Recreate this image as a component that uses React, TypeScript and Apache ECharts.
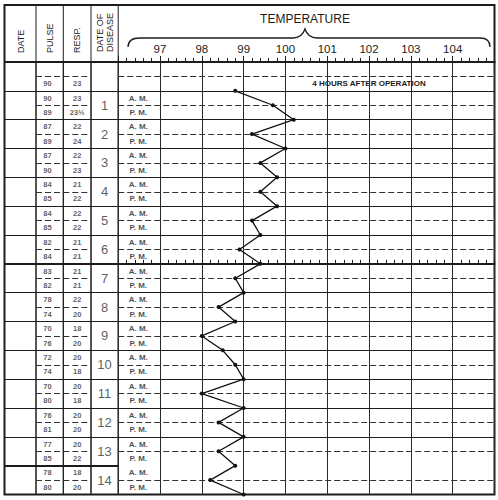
import { useEffect, useRef } from "react";
import * as echarts from "echarts";

// Temperature scale labels along the top
const tempTicks = [97, 98, 99, 100, 101, 102, 103, 104];
// Day of disease
const days = [1, 2, 3, 4, 5, 6, 7, 8, 9, 10, 11, 12, 13, 14];
// Reading taken before day 1
const preOpPulse = "90";
const preOpResp = "23";
// Morning / evening pulse and respiration
const pulseAM = [90, 87, 87, 84, 84, 82, 83, 78, 70, 72, 70, 76, 77, 78];
const pulsePM = [89, 89, 90, 85, 85, 84, 82, 74, 76, 74, 80, 81, 85, 80];
const respAM = ["23", "22", "22", "21", "22", "21", "21", "22", "18", "20", "20", "20", "20", "18"];
const respPM = ["23½", "24", "23", "22", "22", "21", "21", "20", "20", "18", "18", "20", "22", "20"];
// Temperature (°F) at each row boundary, starting at the top of day 1
const temperature = [
  98.8, 99.7, 100.2, 99.2, 100.0, 99.4, 99.8, 99.4, 99.8, 99.2, 99.4, 98.9, 99.4, 98.8,
  99.0, 98.4, 98.8, 98.0, 98.5, 98.8, 99.0, 98.0, 99.0, 98.4, 99.0, 98.4, 98.8, 98.2, 99.0,
];
const halfDay = ["A. M.", "P. M."];

const FONT = "Liberation Sans, Arial, sans-serif";
const INK = "#1c1c1c";
const TOP = 62;
const BOTTOM = 494.5;
const ROWS = 30;
const ROW_H = (BOTTOM - TOP) / ROWS;
const COLS = [4.5, 36, 63.3, 91, 118.2];
const RIGHT = 494.5;
const FIRST_DAY_ROW = 2;

const BRACE =
  "M128,47 Q128,38 140,38 L293,38 Q302,38 305,29 Q308,38 317,38 L480,38 Q490,38 490,47";

export default function App() {
  const ref = useRef<HTMLDivElement>(null);

  useEffect(() => {
    document.body.style.margin = "0";
    if (!ref.current) return;
    echarts.graphic.registerShape("brace", echarts.graphic.extendPath(BRACE, {}));
    const chart = echarts.init(ref.current, undefined, { renderer: "svg" });

    const solid = (i: number) => ({
      yAxis: i,
      lineStyle: { type: "solid", width: i === 0 || i === 14 || i === 28 ? 2 : 1, color: INK },
    });
    const dashed = (i: number) => ({
      yAxis: i,
      lineStyle: { type: [6, 3], width: 1, color: "#333" },
    });
    const range = (a: number, b: number) => {
      const r: number[] = [];
      for (let i = a; i <= b; i++) r.push(i);
      return r;
    };
    const dayRules = [solid(0), ...range(1, 14).map((k) => solid(2 * k))].filter(
      (r) => r.yAxis < ROWS
    );
    const fullRules = [
      solid(0),
      ...range(1, ROWS - 1).map((i) => (i % 2 === 1 ? dashed(i) : solid(i))),
    ];
    const tempRules = range(1, ROWS - 1)
      .filter((i) => i !== 14 && i !== 28)
      .map((i) => (i % 2 === 1 ? dashed(i) : solid(i)));
    const markLine = (data: any[]) => ({
      silent: true,
      symbol: ["none", "none"],
      label: { show: false },
      data,
    });

    const tableGrid = (k: number) => ({
      left: COLS[k],
      width: COLS[k + 1] - COLS[k],
      top: TOP,
      height: BOTTOM - TOP,
      show: true,
      borderColor: INK,
      borderWidth: 1,
    });
    const tempGrid = (top: number, height: number, show: boolean) => ({
      left: COLS[4],
      width: RIGHT - COLS[4],
      top,
      height,
      show,
      borderColor: INK,
      borderWidth: 1,
    });

    const hiddenX = (gi: number) => ({ type: "value", gridIndex: gi, min: 0, max: 1, show: false });
    const hiddenY = (gi: number) => ({
      type: "value",
      gridIndex: gi,
      min: 0,
      max: ROWS,
      inverse: true,
      show: false,
    });
    const rulerX = (gi: number) => ({
      type: "value",
      gridIndex: gi,
      min: 96,
      max: 105,
      interval: 1,
      position: "bottom",
      axisLine: { show: true, lineStyle: { color: INK, width: 2 } },
      axisTick: { show: true, inside: true, length: 4, lineStyle: { color: INK } },
      minorTick: { show: true, splitNumber: 5, length: 4, lineStyle: { color: INK } },
      axisLabel: { show: false },
      splitLine: { show: false },
    });

    const textSeries = (gi: number, items: { value: number[]; name: string }[], font: any) => ({
      type: "scatter",
      xAxisIndex: gi,
      yAxisIndex: gi,
      symbolSize: 0,
      silent: true,
      data: items,
      label: {
        show: true,
        position: "inside",
        formatter: "{b}",
        color: INK,
        fontFamily: FONT,
        ...font,
      },
    });

    const pulseItems = [{ value: [0.42, 1.5], name: preOpPulse }];
    const respItems = [{ value: [0.5, 1.5], name: preOpResp }];
    const dayItems: { value: number[]; name: string }[] = [];
    const halfItems: { value: number[]; name: string }[] = [];
    days.forEach((d, k) => {
      const r = FIRST_DAY_ROW + 2 * k;
      pulseItems.push({ value: [0.42, r + 0.5], name: String(pulseAM[k]) });
      pulseItems.push({ value: [0.42, r + 1.5], name: String(pulsePM[k]) });
      respItems.push({ value: [0.5, r + 0.5], name: respAM[k] });
      respItems.push({ value: [0.5, r + 1.5], name: respPM[k] });
      dayItems.push({ value: [0.5, r + 1], name: String(d) });
      halfItems.push({ value: [96.48, r + 0.5], name: halfDay[0] });
      halfItems.push({ value: [96.48, r + 1.5], name: halfDay[1] });
    });

    const headerText = (text: string, x: number, y: number) => ({
      type: "text",
      x,
      y,
      rotation: Math.PI / 2,
      style: {
        text,
        align: "left",
        verticalAlign: "middle",
        font: `9px ${FONT}`,
        fill: INK,
      },
    });
    const vline = (x: number) => ({
      type: "line",
      shape: { x1: x, y1: 5, x2: x, y2: TOP },
      style: { stroke: INK, lineWidth: 1 },
    });

    chart.setOption({
      animation: false,
      backgroundColor: "#fff",
      grid: [
        tableGrid(0),
        tableGrid(1),
        tableGrid(2),
        tableGrid(3),
        tempGrid(TOP, BOTTOM - TOP, true),
        tempGrid(TOP, 14 * ROW_H, false),
        tempGrid(TOP + 14 * ROW_H, 14 * ROW_H, false),
      ],
      xAxis: [
        hiddenX(0),
        hiddenX(1),
        hiddenX(2),
        hiddenX(3),
        {
          type: "value",
          gridIndex: 4,
          min: 96,
          max: 105,
          interval: 1,
          position: "top",
          axisLine: { show: true, lineStyle: { color: INK, width: 2 } },
          axisTick: { show: true, length: 6, lineStyle: { color: INK } },
          minorTick: { show: true, splitNumber: 5, length: 4, lineStyle: { color: INK } },
          axisLabel: {
            margin: 7,
            color: "#222",
            fontFamily: FONT,
            fontSize: 11.5,
            formatter: (v: number) => (tempTicks.includes(v) ? String(v) : ""),
          },
          splitLine: { show: true, lineStyle: { color: "#2a2a2a", width: 1 } },
        },
        rulerX(5),
        rulerX(6),
      ],
      yAxis: [0, 1, 2, 3, 4, 5, 6].map((gi) => hiddenY(gi)),
      series: [
        { type: "scatter", xAxisIndex: 0, yAxisIndex: 0, data: [], markLine: markLine(dayRules) },
        {
          ...textSeries(1, pulseItems, { fontSize: 7.5, fontWeight: "bold", color: "#333" }),
          markLine: markLine(fullRules),
        },
        {
          ...textSeries(2, respItems, { fontSize: 7.5, fontWeight: "bold", color: "#333" }),
          markLine: markLine(fullRules),
        },
        { ...textSeries(3, dayItems, { fontSize: 13, color: "#333" }), markLine: markLine(dayRules) },
        { ...textSeries(4, halfItems, { fontSize: 8, fontWeight: "bold" }), markLine: markLine(tempRules) },
        {
          type: "line",
          xAxisIndex: 4,
          yAxisIndex: 4,
          data: temperature.map((t, k) => [t, FIRST_DAY_ROW + k]),
          symbol: "circle",
          symbolSize: 4,
          showSymbol: true,
          lineStyle: { color: "#111", width: 1.3 },
          itemStyle: { color: "#111" },
          z: 5,
        },
      ],
      graphic: [
        {
          type: "rect",
          shape: { x: 4.5, y: 5, width: RIGHT - 4.5, height: BOTTOM - 5 },
          style: { fill: "none", stroke: INK, lineWidth: 2 },
        },
        vline(COLS[1]),
        vline(COLS[2]),
        vline(COLS[3]),
        vline(COLS[4]),
        headerText("DATE", 20.5, 53),
        headerText("PULSE", 49.5, 53),
        headerText("RESP.", 77, 53),
        headerText("DATE OF", 100, 52),
        headerText("DISEASE", 110, 52),
        {
          type: "text",
          x: 305,
          y: 19,
          style: {
            text: "TEMPERATURE",
            align: "center",
            verticalAlign: "middle",
            font: `12px ${FONT}`,
            fill: INK,
          },
        },
        {
          type: "brace",
          style: { fill: "none", stroke: INK, lineWidth: 1.3 },
        },
        {
          type: "text",
          x: 369,
          y: 83.5,
          style: {
            text: "4 HOURS AFTER OPERATION",
            align: "center",
            verticalAlign: "middle",
            font: `bold 8px ${FONT}`,
            fill: INK,
          },
        },
      ],
    });

    return () => chart.dispose();
  }, []);

  return <div ref={ref} style={{ width: 498, height: 500, background: "#fff" }} />;
}
